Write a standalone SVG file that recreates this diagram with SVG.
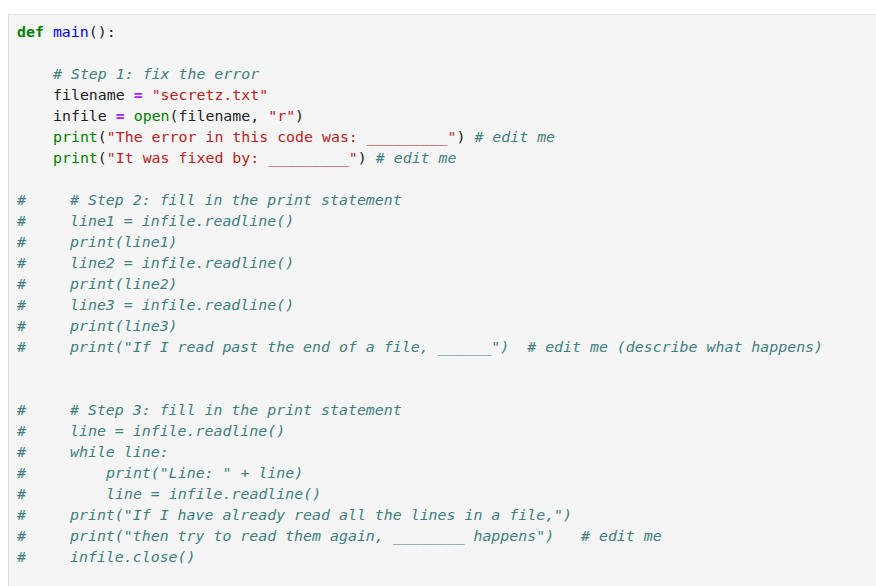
<svg xmlns="http://www.w3.org/2000/svg" width="876" height="586" viewBox="0 0 876 586">
<style>
text{font-family:"DejaVu Sans Mono","Liberation Mono",monospace;font-size:14.9px;fill:#222;white-space:pre}
.k{fill:#008000;font-weight:bold}.f{fill:#0000ff}.o{fill:#aa22ff;font-weight:bold}.s{fill:#ba2121}.b{fill:#008000}
.c{fill:#408080;font-style:italic}.h{fill:#408080}
</style>
<rect x="0" y="0" width="876" height="586" fill="#fff"/>
<rect x="8.5" y="14.5" width="870" height="580" fill="#f5f5f5" stroke="#e0e0e0"/>
<g id="code">
<text x="17" y="37"><tspan class="k">def</tspan> <tspan class="f">main</tspan>():</text>
<text x="53" y="79" class="c"># Step 1: fix the error</text>
<text x="53" y="100">filename <tspan class="o">=</tspan> <tspan class="s">"secretz.txt"</tspan></text>
<text x="53" y="121">infile <tspan class="o">=</tspan> <tspan class="b">open</tspan>(filename, <tspan class="s">"r"</tspan>)</text>
<text x="53" y="142"><tspan class="b">print</tspan>(<tspan class="s">"The error in this code was: _________"</tspan>) <tspan class="c"># edit me</tspan></text>
<text x="53" y="163"><tspan class="b">print</tspan>(<tspan class="s">"It was fixed by: _________"</tspan>) <tspan class="c"># edit me</tspan></text>
<g class="h">
<text x="17" y="205" class="h">#</text><text x="17" y="226" class="h">#</text><text x="17" y="247" class="h">#</text><text x="17" y="268" class="h">#</text>
<text x="17" y="289" class="h">#</text><text x="17" y="310" class="h">#</text><text x="17" y="331" class="h">#</text><text x="17" y="352" class="h">#</text>
<text x="17" y="415" class="h">#</text><text x="17" y="436" class="h">#</text><text x="17" y="457" class="h">#</text><text x="17" y="478" class="h">#</text>
<text x="17" y="499" class="h">#</text><text x="17" y="520" class="h">#</text><text x="17" y="541" class="h">#</text><text x="17" y="562" class="h">#</text>
</g>
<text x="70" y="205" class="c"># Step 2: fill in the print statement</text>
<text x="70" y="226" class="c">line1 = infile.readline()</text>
<text x="70" y="247" class="c">print(line1)</text>
<text x="70" y="268" class="c">line2 = infile.readline()</text>
<text x="70" y="289" class="c">print(line2)</text>
<text x="70" y="310" class="c">line3 = infile.readline()</text>
<text x="70" y="331" class="c">print(line3)</text>
<text x="70" y="352" class="c">print("If I read past the end of a file, ______")  # edit me (describe what happens)</text>
<text x="70" y="415" class="c"># Step 3: fill in the print statement</text>
<text x="70" y="436" class="c">line = infile.readline()</text>
<text x="70" y="457" class="c">while line:</text>
<text x="106" y="478" class="c">print("Line: " + line)</text>
<text x="106" y="499" class="c">line = infile.readline()</text>
<text x="70" y="520" class="c">print("If I have already read all the lines in a file,")</text>
<text x="70" y="541" class="c">print("then try to read them again, ________ happens")   # edit me</text>
<text x="70" y="562" class="c">infile.close()</text>
</g>
</svg>
